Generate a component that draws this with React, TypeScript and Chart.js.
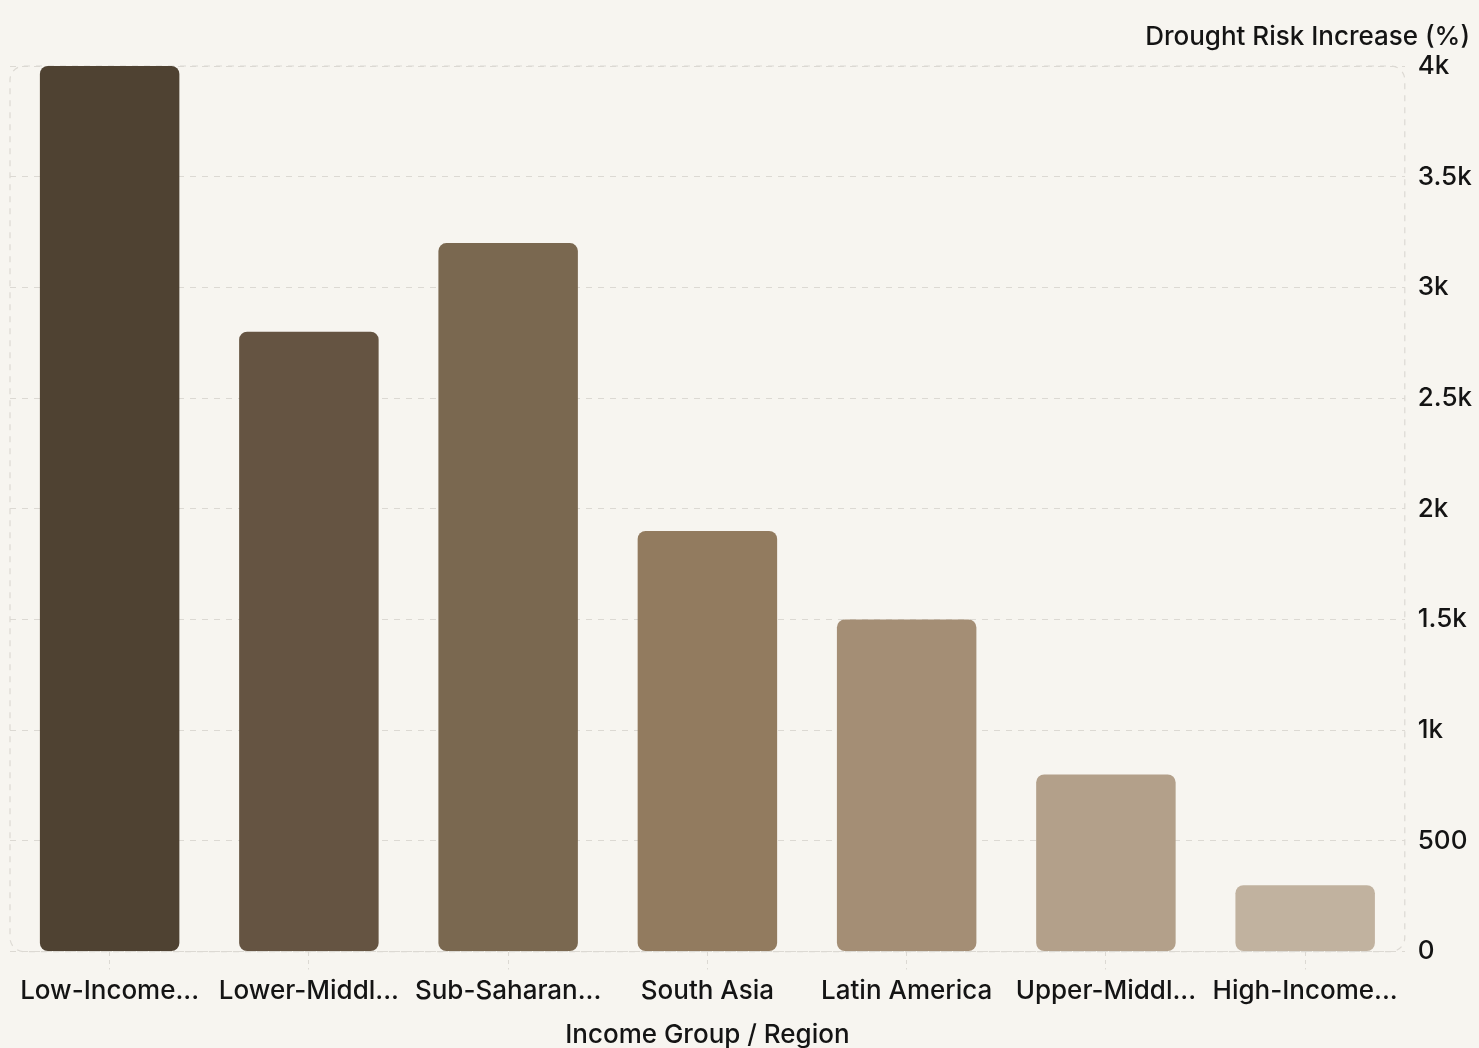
import React, { useEffect, useRef } from "react";
import { Chart, registerables } from "chart.js";

Chart.register(...registerables);

const categories = [
  "Low-Income Countries",
  "Lower-Middle Income",
  "Sub-Saharan Africa",
  "South Asia",
  "Latin America",
  "Upper-Middle Income",
  "High-Income Countries",
];
const droughtRisk = [4000, 2800, 3200, 1900, 1500, 800, 300];
const barColors = ["#4f4232", "#655442", "#7a6850", "#927b5f", "#a48e75", "#b3a08a", "#c1b29f"];
const yTitle = "Drought Risk Increase (%)";
const xTitle = "Income Group / Region";

const FONT = "Inter, 'Noto Sans', sans-serif";
const BG = "#f7f5f0";
const GRID = "#dcd9d3";
const INK = "#141414";

const frame = {
  id: "frame",
  beforeDraw(chart: any) {
    const { ctx, width, height } = chart;
    ctx.save();
    ctx.fillStyle = BG;
    ctx.fillRect(0, 0, width, height);
    ctx.restore();
  },
  beforeDatasetsDraw(chart: any) {
    const { ctx, chartArea: a } = chart;
    ctx.save();
    ctx.strokeStyle = GRID;
    ctx.lineWidth = 1.2;
    ctx.setLineDash([6, 6]);
    ctx.beginPath();
    (ctx as any).roundRect(a.left, a.top, a.right - a.left, a.bottom - a.top, 14);
    ctx.stroke();
    ctx.restore();
  },
  afterDraw(chart: any) {
    const { ctx, width } = chart;
    ctx.save();
    ctx.fillStyle = INK;
    ctx.font = `500 26px ${FONT}`;
    ctx.textAlign = "right";
    ctx.textBaseline = "middle";
    ctx.fillText(yTitle, width - 9, 37);
    ctx.restore();
  },
};

export default function App() {
  const ref = useRef<HTMLCanvasElement>(null);
  useEffect(() => {
    document.body.style.margin = "0";
    document.body.style.background = BG;
    const chart = new Chart(ref.current!, {
      type: "bar",
      data: {
        labels: categories,
        datasets: [
          {
            data: droughtRisk,
            backgroundColor: barColors,
            borderRadius: 8,
            borderSkipped: false,
            barPercentage: 0.7,
            categoryPercentage: 1,
          },
        ],
      },
      plugins: [frame],
      options: {
        animation: false,
        responsive: false,
        maintainAspectRatio: false,
        layout: { padding: { top: 66, right: -6, left: 10, bottom: -3 } },
        plugins: { legend: { display: false }, tooltip: { enabled: false } },
        scales: {
          x: {
            offset: true,
            grid: {
              offset: false,
              drawOnChartArea: false,
              drawTicks: true,
              tickLength: 18,
              color: GRID,
              tickBorderDash: [4, 4],
            },
            border: { display: false },
            ticks: {
              color: INK,
              font: { family: FONT, size: 26, weight: "500" },
              padding: 6,
              maxRotation: 0,
              autoSkip: false,
              callback: function (this: any, v: any) {
                const s = categories[v as number];
                return s.length > 14 ? s.slice(0, 11).trim() + "..." : s;
              },
            },
            title: {
              display: true,
              text: xTitle,
              color: INK,
              font: { family: FONT, size: 26, weight: "500" },
              padding: { top: 7, bottom: 0 },
            },
          },
          y: {
            position: "right",
            min: 0,
            max: 4000,
            grid: { color: GRID, drawTicks: false, lineWidth: 1 },
            border: { display: false, dash: [6, 6] },
            ticks: {
              stepSize: 500,
              color: INK,
              font: { family: FONT, size: 26, weight: "500" },
              padding: 13,
              callback: (v: any) => (v >= 1000 ? v / 1000 + "k" : String(v)),
            },
          },
        },
      },
    });
    return () => chart.destroy();
  }, []);
  return (
    <div style={{ width: 1479, height: 1048 }}>
      <canvas ref={ref} width={1479} height={1048} style={{ display: "block" }} />
    </div>
  );
}
